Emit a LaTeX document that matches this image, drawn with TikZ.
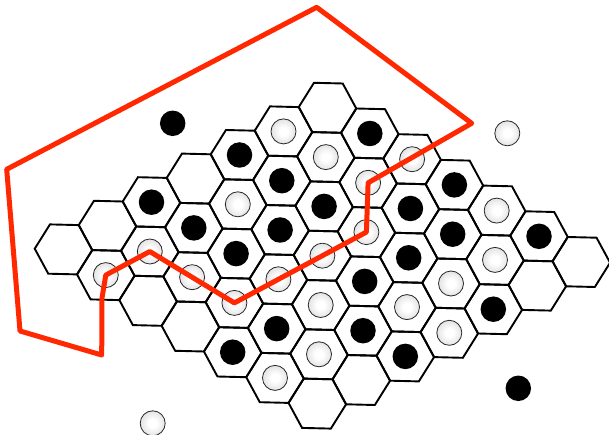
\documentclass[tikz,border=0pt]{standalone}
\definecolor{redline}{RGB}{255,40,0}
\pgfdeclareradialshading{stoneshade}{\pgfpoint{0bp}{0bp}}{color(0bp)=(white); color(8bp)=(white); color(50bp)=(black!27)}
\tikzset{
  hexcell/.style={draw=black, line width=1.9pt, line join=miter},
  bstone/.style={circle, fill=black, inner sep=0pt, minimum size=25.5pt},
  wstone/.style={circle, draw=black!85, line width=0.8pt, shading=stoneshade, shade, inner sep=0pt, minimum size=25pt},
  region/.style={draw=redline, line width=5pt, line join=round, line cap=round},
}
\begin{document}
\begin{tikzpicture}[x=1pt,y=-1pt]
\useasboundingbox (0,0) rectangle (609,435);
\begin{scope}[shift={(63.5,249.4)}]
\begin{scope}[x={(44pt,23.6pt)}, y={(42.3pt,-25.7pt)}]
  \foreach \i in {0,...,6}{
    \foreach \j in {0,...,6}{
      \draw[hexcell] ({\i+1/3},{\j+1/3}) -- ({\i-1/3},{\j+2/3}) -- ({\i-2/3},{\j+1/3})
        -- ({\i-1/3},{\j-1/3}) -- ({\i+1/3},{\j-2/3}) -- ({\i+2/3},{\j-1/3}) -- cycle;
    }
  }
  \foreach \i/\j in {0/4,1/4,2/0,2/1,2/2,2/5,2/6,3/2,3/4,4/0,4/1,4/2,4/4,4/6,5/3,5/4,6/1,6/3,6/5}
    \node[bstone] (s\i\j) at (\i,\j) {};
  \foreach \i/\j in {0/1,0/5,1/1,1/2,1/3,1/5,2/3,2/4,3/1,3/3,3/5,3/6,4/3,4/5,5/0,5/1,5/2,5/5,6/2,6/4}
    \node[wstone] (s\i\j) at (\i,\j) {};
\end{scope}
\end{scope}
\node[bstone] (ob1) at (172.7,123.3) {};
\node[wstone] (ow1) at (507.3,133.3) {};
\node[bstone] (ob2) at (518.3,388.3) {};
\node[wstone] (ow2) at (152.7,423.3) {};
\coordinate (p1) at (316.7,7.3);
\coordinate (p2) at (471.7,123.3);
\coordinate (p8) at (102,298);
\coordinate (p9) at (101.7,355);
\coordinate (p10) at (20,331);
\coordinate (p11) at (6.7,169.3);
\draw[region] (p1) -- (p2) -- (s52.center) -- (s43.center) -- (s13.center) -- (s11.center)
  -- (s01.center) -- (p8) -- (p9) -- (p10) -- (p11) -- cycle;
\end{tikzpicture}
\end{document}
